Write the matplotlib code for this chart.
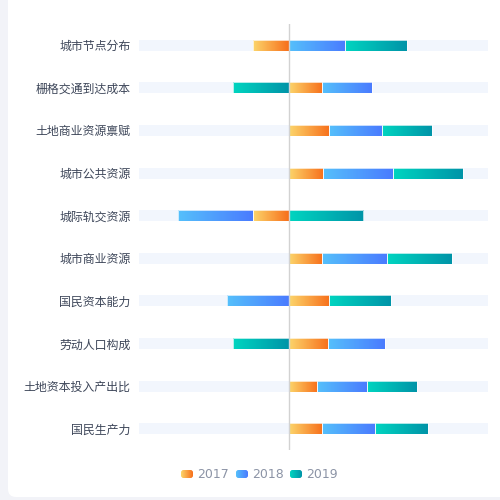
import numpy as np
import matplotlib.pyplot as plt
from matplotlib.patches import FancyBboxPatch
from matplotlib.colors import LinearSegmentedColormap

plt.rcParams['font.family'] = ['Noto Sans CJK SC', 'DejaVu Sans']

# 数据
categories = ['城市节点分布', '栅格交通到达成本', '土地商业资源禀赋', '城市公共资源', '城际轨交资源',
              '城市商业资源', '国民资本能力', '劳动人口构成', '土地资本投入产出比', '国民生产力']
years = ['2017', '2018', '2019']
v2017 = [-18, 17, 20.5, 17.5, -18, 17, 20.5, 20, 14.5, 17]
v2018 = [28.5, 25, 26.5, 35, -37.5, 32.5, -31, 28.5, 25, 26.5]
v2019 = [31, -28, 25, 35, 37.5, 32.5, 31, -28, 25, 26.5]
x_min, x_max = -75, 100

# 渐变色
grads = [('#fcd56b', '#f76f1b'), ('#55c0fb', '#4a7bff'), ('#00d5c0', '#0094a8')]
cmaps = [LinearSegmentedColormap.from_list('g%d' % i, c) for i, c in enumerate(grads)]
ramp = np.tile(np.linspace(0, 1, 256), (2, 1))

fig = plt.figure(figsize=(5, 5), dpi=100)
fig.patch.set_facecolor('#f2f3f8')

# 白色卡片
bg = fig.add_axes([0, 0, 1, 1])
bg.set_xlim(0, 500)
bg.set_ylim(500, 0)
bg.axis('off')
bg.add_patch(FancyBboxPatch((8, -20), 520, 517, boxstyle='round,pad=0,rounding_size=8',
                            fc='white', ec='none'))

ax = fig.add_axes([139 / 500, 0.1, 349 / 500, 0.852])
ax.set_facecolor('none')
n = len(categories)
h = 0.26
ax.set_xlim(x_min, x_max)
ax.set_ylim(n - 0.5, -0.5)

for i in range(n):
    ax.barh(i, x_max - x_min, left=x_min, height=h, color='#f2f6fd', zorder=1)
    pos, neg = 0, 0
    for k, vals in enumerate([v2017, v2018, v2019]):
        v = vals[i]
        if v >= 0:
            l, r = pos, pos + v
            pos += v
        else:
            l, r = neg + v, neg
            neg += v
        bar = ax.barh(i, r - l, left=l, height=h, fc='none', ec='white', lw=0.5, zorder=3)[0]
        im = ax.imshow(ramp, cmap=cmaps[k], extent=(l, r, i + h, i - h),
                       aspect='auto', interpolation='nearest', zorder=2)
        im.set_clip_path(bar)

ax.axvline(0, color='#d2d2d2', lw=1, zorder=4)
ax.set_yticks(range(n))
ax.set_yticklabels(categories, fontsize=8.6, color='#3d4659')
ax.tick_params(axis='y', length=0, pad=6)
ax.set_xticks([])
for s in ax.spines.values():
    s.set_visible(False)
ax.set_xlim(x_min, x_max)
ax.set_ylim(n - 0.5, -0.5)

# 图例
lx = [181, 236, 290]
for k, y in enumerate(years):
    im = bg.imshow(ramp, cmap=cmaps[k], extent=(lx[k], lx[k] + 12, 478, 470),
                   aspect='auto', interpolation='nearest', zorder=3)
    clip = FancyBboxPatch((lx[k], 470), 12, 8, boxstyle='round,pad=0,rounding_size=2.5',
                          transform=bg.transData)
    im.set_clip_path(clip)
    bg.text(lx[k] + 16, 474.5, y, fontsize=9, color='#8c94a6', va='center', ha='left',
            family=['DejaVu Sans'])

fig.savefig('out.png', dpi=100)
